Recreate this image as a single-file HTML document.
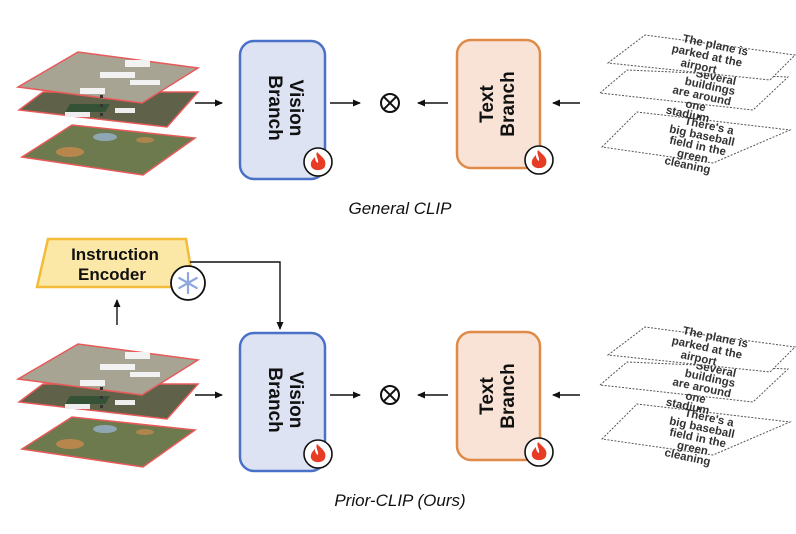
<!DOCTYPE html>
<html><head><meta charset="utf-8"><style>
html,body{margin:0;padding:0;background:#fff;}
svg{display:block;font-family:"Liberation Sans",sans-serif;}
</style></head><body>
<svg width="796" height="534" viewBox="0 0 796 534" xmlns="http://www.w3.org/2000/svg">
<defs>
<marker id="ah" markerWidth="8" markerHeight="8" refX="7" refY="4" orient="auto" markerUnits="userSpaceOnUse">
<path d="M0,0.5 L8,4 L0,7.5 Z" fill="#111"/></marker>
<g id="imgs">
  <polygon points="22,157 72,125 195,138 143,175" fill="#6d7a4e" stroke="#e85a5a" stroke-width="1.5"/>
  <ellipse cx="70" cy="152" rx="14" ry="5" fill="#c98a4e" opacity=".8"/>
  <ellipse cx="105" cy="137" rx="12" ry="4" fill="#8fa7b3"/>
  <ellipse cx="145" cy="140" rx="9" ry="3" fill="#c98a4e" opacity=".7"/>
  <polygon points="19,110 43,92 198,92 167,127" fill="#5f6148" stroke="#e85a5a" stroke-width="1.5"/>
  <rect x="70" y="104" width="40" height="8" fill="#355236" transform="skewX(-30) translate(60,0)"/>
  <rect x="65" y="112" width="25" height="5" fill="#eee"/>
  <rect x="115" y="108" width="20" height="5" fill="#eee"/>
  <polygon points="18,87 78,52 198,68 142,103" fill="#a8a493" stroke="#e85a5a" stroke-width="1.5"/>
  <rect x="100" y="72" width="35" height="6" fill="#f2f2f2"/>
  <rect x="80" y="88" width="25" height="6" fill="#f2f2f2"/>
  <rect x="130" y="80" width="30" height="5" fill="#f2f2f2"/>
  <rect x="125" y="60" width="25" height="7" fill="#f2f2f2"/>
  <rect x="100" y="95" width="3" height="3" fill="#333"/>
  <rect x="100" y="104" width="3" height="3" fill="#333"/>
  <rect x="100" y="113" width="3" height="3" fill="#333"/>
</g>
<g id="cards" fill="#333" font-weight="bold" font-size="11.5" text-anchor="middle">
  <polygon points="602,147 637,112 790,130 713,163" fill="#fff" stroke="#555" stroke-dasharray="2,1.5"/>
  <g transform="rotate(12 700 145)">
   <text x="705" y="128">There's a</text><text x="700" y="139">big baseball</text>
   <text x="698" y="150">field in the</text><text x="695" y="161">green</text><text x="692" y="171">cleaning</text></g>
  <polygon points="600,93 627,70 788,77 753,110" fill="#fff" stroke="#555" stroke-dasharray="2,1.5"/>
  <g transform="rotate(12 700 95)">
   <text x="712" y="78">Several</text><text x="708" y="88">buildings</text>
   <text x="702" y="99">are around</text><text x="698" y="110">one</text><text x="692" y="120">stadium</text></g>
  <polygon points="608,63 645,35 795,55 770,80" fill="#fff" stroke="#555" stroke-dasharray="2,1.5"/>
  <g transform="rotate(12 700 60)">
   <text x="712" y="46">The plane is</text><text x="706" y="58">parked at the</text><text x="700" y="70">airport</text></g>
  <rect x="697" y="115" width="3" height="3" fill="#333"/>
</g>
<g id="fire">
  <circle cx="0" cy="0" r="14" fill="#fff" stroke="#111" stroke-width="1.6"/>
  <path d="M-1,-10 C4,-5 9,-2 7,4 C6,9 -5,10 -7,4 C-8,0 -5,-3 -3,-5 C-3,-2 -2,0 0,1 C1,-3 -3,-6 -1,-10 Z" fill="#e83b24"/>
</g>
<g id="row">
  <line x1="195" y1="103" x2="222" y2="103" stroke="#111" stroke-width="1.4" marker-end="url(#ah)"/>
  <rect x="240" y="41" width="85" height="138" rx="14" fill="#dde3f3" stroke="#4a70c8" stroke-width="2.5"/>
  <text transform="translate(284,108) rotate(90)" text-anchor="middle" font-size="19" font-weight="bold" fill="#111"><tspan x="0" y="-6">Vision</tspan><tspan x="0" y="15">Branch</tspan></text>
  <use href="#fire" x="318" y="162"/>
  <line x1="330" y1="103" x2="360" y2="103" stroke="#111" stroke-width="1.4" marker-end="url(#ah)"/>
  <circle cx="390" cy="103" r="9" fill="none" stroke="#111" stroke-width="2"/>
  <line x1="383.6" y1="96.6" x2="396.4" y2="109.4" stroke="#111" stroke-width="2"/>
  <line x1="396.4" y1="96.6" x2="383.6" y2="109.4" stroke="#111" stroke-width="2"/>
  <line x1="448" y1="103" x2="418" y2="103" stroke="#111" stroke-width="1.4" marker-end="url(#ah)"/>
  <rect x="457" y="40" width="83" height="128" rx="14" fill="#f8e3d6" stroke="#e08a48" stroke-width="2.5"/>
  <text transform="translate(497,104) rotate(-90)" text-anchor="middle" font-size="19" font-weight="bold" fill="#111"><tspan x="0" y="-4">Text</tspan><tspan x="0" y="17">Branch</tspan></text>
  <use href="#fire" x="539" y="160"/>
  <line x1="580" y1="103" x2="553" y2="103" stroke="#111" stroke-width="1.4" marker-end="url(#ah)"/>
  <use href="#imgs"/>
  <use href="#cards"/>
</g>
</defs>
<use href="#row"/>
<text x="400" y="214" text-anchor="middle" font-size="17" font-style="italic" fill="#111">General CLIP</text>
<use href="#row" y="292"/>
<text x="400" y="506" text-anchor="middle" font-size="17" font-style="italic" fill="#111">Prior-CLIP (Ours)</text>
<polygon points="48,239 186,239 194,287 37,287" fill="#fbe8a6" stroke="#f3bb3a" stroke-width="2.5"/>
<text x="115" y="260" text-anchor="middle" font-size="17" font-weight="bold" fill="#111">Instruction</text>
<text x="112" y="280" text-anchor="middle" font-size="17" font-weight="bold" fill="#111">Encoder</text>
<circle cx="188" cy="283" r="17" fill="#fff" stroke="#111" stroke-width="1.8"/>
<g stroke="#8fa7e0" stroke-width="2.2" stroke-linecap="round">
<line x1="188" y1="273" x2="188" y2="293"/><line x1="179.3" y1="278" x2="196.7" y2="288"/><line x1="179.3" y1="288" x2="196.7" y2="278"/></g>
<polyline points="190,262 280,262 280,329" fill="none" stroke="#111" stroke-width="1.4" marker-end="url(#ah)"/>
<line x1="117" y1="325" x2="117" y2="300" stroke="#111" stroke-width="1.4" marker-end="url(#ah)"/>
</svg>
</body></html>
